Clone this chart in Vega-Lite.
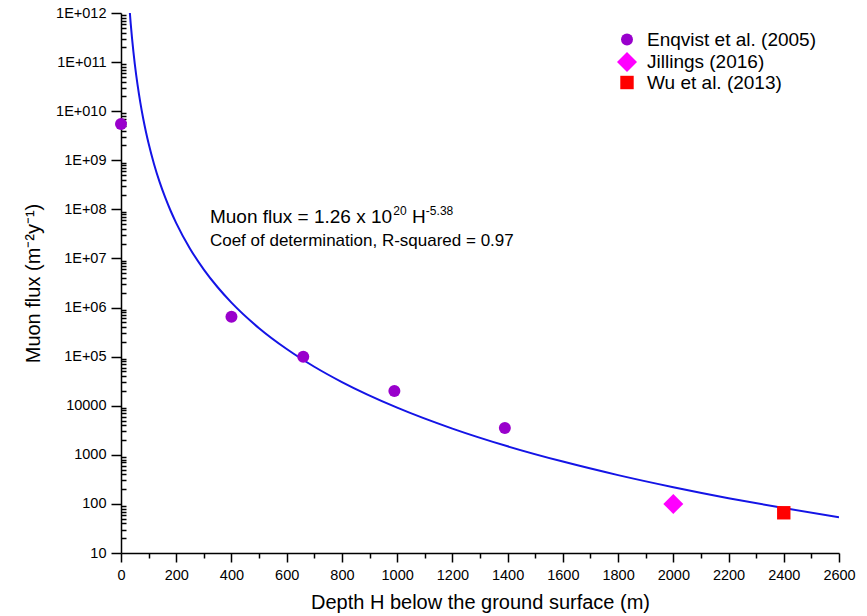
{
  "$schema": "https://vega.github.io/schema/vega-lite/v6.json",
  "width": 718,
  "height": 540,
  "autosize": {"type": "none"},
  "padding": {"left": 121, "top": 13, "right": 28, "bottom": 63},
  "background": "white",
  "config": {
    "view": {"stroke": null},
    "font": "Liberation Sans",
    "axis": {"grid": false, "domainColor": "black", "tickColor": "black", "labelColor": "black", "titleColor": "black", "domainWidth": 1.5, "tickWidth": 1.5, "labelFont": "Liberation Sans", "titleFont": "Liberation Sans", "labelFontSize": 14.5, "titleFontSize": 20, "titleFontWeight": "normal"},
    "legend": {"labelFont": "Liberation Sans", "labelFontSize": 19, "labelColor": "black", "labelLimit": 0}
  },
  "datasets": {
    "curve": [
      {"H": 30, "flux": 1.424e12}, {"H": 35, "flux": 6.21e11}, {"H": 40, "flux": 3.03e11}, {"H": 45, "flux": 1.61e11},
      {"H": 50, "flux": 9.12e10}, {"H": 60, "flux": 3.42e10}, {"H": 70, "flux": 1.49e10}, {"H": 80, "flux": 7.27e9},
      {"H": 90, "flux": 3.86e9}, {"H": 100, "flux": 2.19e9}, {"H": 120, "flux": 8.21e8}, {"H": 140, "flux": 3.58e8},
      {"H": 160, "flux": 1.75e8}, {"H": 180, "flux": 9.27e7}, {"H": 200, "flux": 5.26e7}, {"H": 250, "flux": 1.58e7},
      {"H": 300, "flux": 5.94e6}, {"H": 350, "flux": 2.59e6}, {"H": 400, "flux": 1.26e6}, {"H": 500, "flux": 3.8e5},
      {"H": 600, "flux": 1.43e5}, {"H": 700, "flux": 6.22e4}, {"H": 800, "flux": 3.03e4}, {"H": 1000, "flux": 9130},
      {"H": 1200, "flux": 3420}, {"H": 1400, "flux": 1490}, {"H": 1600, "flux": 728}, {"H": 1800, "flux": 386},
      {"H": 2000, "flux": 219}, {"H": 2200, "flux": 131}, {"H": 2400, "flux": 82.2}, {"H": 2600, "flux": 53.4}
    ],
    "obs": [
      {"H": 0, "flux": 5.5e9, "source": "Enqvist et al. (2005)"},
      {"H": 400, "flux": 6.5e5, "source": "Enqvist et al. (2005)"},
      {"H": 660, "flux": 1.0e5, "source": "Enqvist et al. (2005)"},
      {"H": 990, "flux": 2.0e4, "source": "Enqvist et al. (2005)"},
      {"H": 1390, "flux": 3.5e3, "source": "Enqvist et al. (2005)"},
      {"H": 2000, "flux": 100, "source": "Jillings (2016)"},
      {"H": 2400, "flux": 66, "source": "Wu et al. (2013)"}
    ],
    "eqMain": [
      {"H": 322, "flux": 5.27e7, "label": "Muon flux = 1.26 x 10"},
      {"H": 1054, "flux": 5.27e7, "label": "H"}
    ],
    "eqSup": [
      {"H": 986, "flux": 5.27e7, "label": "20"},
      {"H": 1104, "flux": 5.27e7, "label": "-5.38"}
    ],
    "eqR2": [
      {"H": 322, "flux": 1.79e7, "label": "Coef of determination, R-squared = 0.97"}
    ]
  },
  "resolve": {"axis": {"x": "independent", "y": "independent"}},
  "layer": [
    {
      "data": {"name": "curve"},
      "mark": {"type": "line", "color": "#1414e6", "strokeWidth": 2, "clip": true, "interpolate": "monotone"},
      "encoding": {
        "x": {"field": "H", "type": "quantitative", "scale": {"domain": [0, 2600], "nice": false, "zero": false},
          "axis": {"orient": "bottom", "values": [0,200,400,600,800,1000,1200,1400,1600,1800,2000,2200,2400,2600], "format": "d", "tickSize": 9, "labelPadding": 6, "title": "Depth H below the ground surface (m)", "titlePadding": 11, "labelFlush": false}},
        "y": {"field": "flux", "type": "quantitative", "scale": {"type": "log", "domain": [10, 1e12], "nice": false},
          "axis": {"orient": "left", "values": [10,100,1000,10000,1e5,1e6,1e7,1e8,1e9,1e10,1e11,1e12], "tickSize": 10, "labelPadding": 5, "labelExpr": "datum.value < 1e5 ? format(datum.value, 'd') : '1E+0' + round(log(datum.value) / LN10)", "title": "Muon flux (m⁻²y⁻¹)", "titlePadding": 12, "labelFlush": false}}
      }
    },
    {
      "data": {"name": "obs"},
      "mark": {"type": "point", "filled": true, "opacity": 1},
      "encoding": {
        "x": {"field": "H", "type": "quantitative",
          "axis": {"orient": "bottom", "values": [100,300,500,700,900,1100,1300,1500,1700,1900,2100,2300,2500], "tickSize": 5, "labels": false, "domain": false, "title": null}},
        "y": {"field": "flux", "type": "quantitative",
          "axis": {"orient": "left", "values": [20,30,40,50,60,70,80,90,200,300,400,500,600,700,800,900,2000,3000,4000,5000,6000,7000,8000,9000,2e4,3e4,4e4,5e4,6e4,7e4,8e4,9e4,2e5,3e5,4e5,5e5,6e5,7e5,8e5,9e5,2e6,3e6,4e6,5e6,6e6,7e6,8e6,9e6,2e7,3e7,4e7,5e7,6e7,7e7,8e7,9e7,2e8,3e8,4e8,5e8,6e8,7e8,8e8,9e8,2e9,3e9,4e9,5e9,6e9,7e9,8e9,9e9,2e10,3e10,4e10,5e10,6e10,7e10,8e10,9e10,2e11,3e11,4e11,5e11,6e11,7e11,8e11,9e11], "tickSize": -5, "labels": false, "domain": false, "title": null}},
        "shape": {"field": "source", "type": "nominal", "scale": {"domain": ["Enqvist et al. (2005)", "Jillings (2016)", "Wu et al. (2013)"], "range": ["circle", "diamond", "square"]},
          "legend": {"title": null, "orient": "none", "legendX": 495, "legendY": 17, "padding": 0, "rowPadding": 1, "labelOffset": 9}},
        "color": {"field": "source", "type": "nominal", "scale": {"domain": ["Enqvist et al. (2005)", "Jillings (2016)", "Wu et al. (2013)"], "range": ["#9900cc", "#ff00ff", "#ff0000"]}},
        "size": {"field": "source", "type": "nominal", "scale": {"type": "ordinal", "domain": ["Enqvist et al. (2005)", "Jillings (2016)", "Wu et al. (2013)"], "range": [144, 400, 180]}}
      }
    },
    {
      "data": {"name": "eqMain"},
      "mark": {"type": "text", "align": "left", "baseline": "alphabetic", "fontSize": 19, "color": "black"},
      "encoding": {
        "x": {"field": "H", "type": "quantitative", "axis": null},
        "y": {"field": "flux", "type": "quantitative", "axis": null},
        "text": {"field": "label"}
      }
    },
    {
      "data": {"name": "eqSup"},
      "mark": {"type": "text", "align": "left", "baseline": "alphabetic", "fontSize": 12, "dy": -8, "color": "black"},
      "encoding": {
        "x": {"field": "H", "type": "quantitative", "axis": null},
        "y": {"field": "flux", "type": "quantitative", "axis": null},
        "text": {"field": "label"}
      }
    },
    {
      "data": {"name": "eqR2"},
      "mark": {"type": "text", "align": "left", "baseline": "alphabetic", "fontSize": 17, "color": "black"},
      "encoding": {
        "x": {"field": "H", "type": "quantitative", "axis": null},
        "y": {"field": "flux", "type": "quantitative", "axis": null},
        "text": {"field": "label"}
      }
    }
  ]
}
